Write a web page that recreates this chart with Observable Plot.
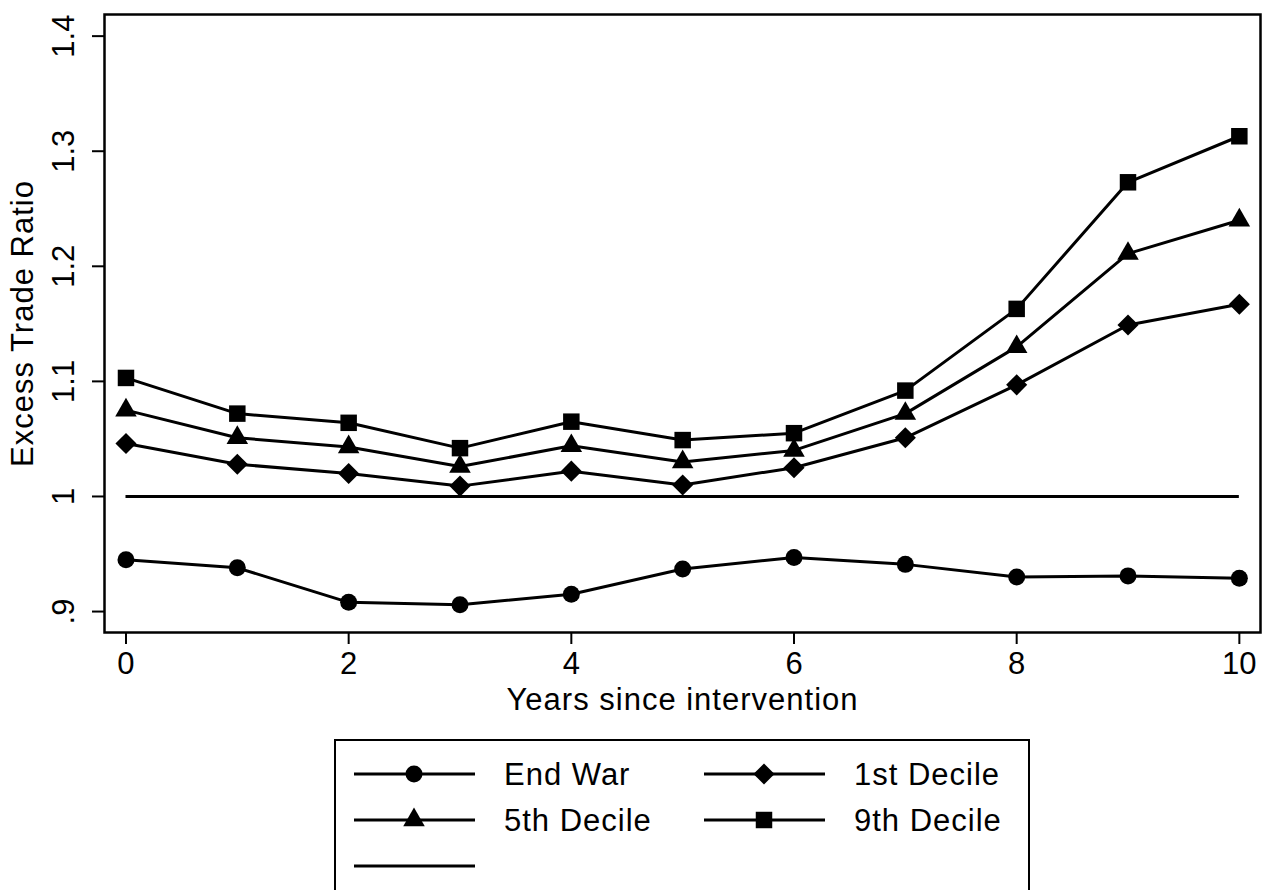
<!DOCTYPE html>
<html>
<head>
<meta charset="utf-8">
<script src="https://cdn.jsdelivr.net/npm/d3@7"></script>
<script src="https://cdn.jsdelivr.net/npm/@observablehq/plot@0.6"></script>
<style>
  html, body { margin: 0; padding: 0; background: #fff; overflow: hidden; }
  #wrap { position: relative; width: 1263px; height: 890px; overflow: hidden; background: #fff; }
  #chart svg { display: block; }
  g[aria-label="text"] text { letter-spacing: 1px; }
  #legend { position: absolute; left: 334px; top: 739px; width: 692px; height: 220px; border: 2px solid #000; background: #fff; }
  #legend text { font-family: "Liberation Sans", Arial, sans-serif; font-size: 31px; letter-spacing: 1px; fill: #000; }
</style>
</head>
<body>
<div id="wrap">
  <div id="chart"></div>
  <div id="legend"></div>
</div>
<script>
// ---- data ----
const years = [0, 1, 2, 3, 4, 5, 6, 7, 8, 9, 10];
const endWar  = [0.945, 0.938, 0.908, 0.906, 0.915, 0.937, 0.947, 0.941, 0.930, 0.931, 0.929];
const decile1 = [1.046, 1.028, 1.020, 1.009, 1.022, 1.010, 1.025, 1.051, 1.097, 1.149, 1.167];
const decile5 = [1.075, 1.051, 1.043, 1.026, 1.044, 1.030, 1.040, 1.072, 1.130, 1.211, 1.240];
const decile9 = [1.103, 1.072, 1.064, 1.042, 1.065, 1.049, 1.055, 1.092, 1.163, 1.273, 1.313];
const seriesNames = ["End War", "1st Decile", "5th Decile", "9th Decile"];
const refValue = 1;
const xTicks = [0, 2, 4, 6, 8, 10];
const xTickLabels = ["0", "2", "4", "6", "8", "10"];
const yTicks = [0.9, 1.0, 1.1, 1.2, 1.3, 1.4];
const yTickLabels = [".9", "1", "1.1", "1.2", "1.3", "1.4"];
const xLabel = "Years since intervention";
const yLabel = "Excess Trade Ratio";

// ---- build table ----
const seriesValues = [endWar, decile1, decile5, decile9];
const rows = [];
seriesNames.forEach((name, s) => {
  years.forEach((yr, i) => rows.push({series: name, year: yr, value: seriesValues[s][i]}));
});

const diamond = d3.symbolDiamond2 || {
  draw(context, size) {
    const r = Math.sqrt(size) * 0.62625;
    context.moveTo(0, -r); context.lineTo(r, 0); context.lineTo(0, r); context.lineTo(-r, 0); context.closePath();
  }
};
const symbolFor = {
  "End War": {symbol: d3.symbolCircle, r: 8.5},
  "1st Decile": {symbol: diamond, r: 9.5},
  "5th Decile": {symbol: d3.symbolTriangle, r: 8},
  "9th Decile": {symbol: d3.symbolSquare, r: 9.3}
};

const font = "'Liberation Sans', Arial, sans-serif";

const chart = Plot.plot({
  width: 1263,
  height: 725,
  marginLeft: 104,
  marginRight: 3,
  marginTop: 14,
  marginBottom: 93,
  style: {fontFamily: font, fontSize: "31px", color: "#000", background: "#fff"},
  x: {type: "linear", domain: [-0.193, 10.19]},
  y: {type: "linear", domain: [0.8818, 1.4188]},
  marks: [
    Plot.axisX({ticks: xTicks, tickSize: 12, tickPadding: 20, strokeWidth: 2,
      tickFormat: (d) => xTickLabels[xTicks.indexOf(d)], lineAnchor: "middle", label: null, fontSize: 31}),
    Plot.axisY({ticks: yTicks, tickSize: 12, tickPadding: 28, strokeWidth: 2, tickRotate: -90,
      textAnchor: "middle", lineAnchor: "middle",
      tickFormat: (d) => yTickLabels[yTicks.findIndex(t => Math.abs(t - d) < 1e-9)], label: null, fontSize: 31}),
    Plot.text([xLabel], {text: d => d, frameAnchor: "bottom", dy: 68, textAnchor: "middle", lineAnchor: "middle", fontSize: 31}),
    Plot.text([yLabel], {text: d => d, frameAnchor: "left", dx: -81, rotate: -90, textAnchor: "middle", lineAnchor: "middle", fontSize: 31}),
    Plot.ruleY([refValue], {x1: years[0], x2: years[years.length - 1], stroke: "#000", strokeWidth: 3}),
    Plot.line(rows, {x: "year", y: "value", z: "series", stroke: "#000", strokeWidth: 3}),
    ...seriesNames.map(name => Plot.dot(rows.filter(d => d.series === name), {
      x: "year", y: "value", symbol: () => symbolFor[name].symbol, r: symbolFor[name].r,
      fill: "#000", stroke: "none"
    })),
    Plot.frame({stroke: "#000", strokeWidth: 2.5})
  ]
});
document.getElementById("chart").appendChild(chart);

// ---- legend ----
const lg = d3.select("#legend").append("svg").attr("width", 692).attr("height", 220);
const legendItems = [
  {name: "End War", col: 0, row: 0},
  {name: "1st Decile", col: 1, row: 0},
  {name: "5th Decile", col: 0, row: 1},
  {name: "9th Decile", col: 1, row: 1},
  {name: null, col: 0, row: 2}
];
const colX = [18, 368];
const rowY = [33, 79, 125];
legendItems.forEach(it => {
  const x0 = colX[it.col], y0 = rowY[it.row];
  lg.append("line").attr("x1", x0).attr("x2", x0 + 121).attr("y1", y0).attr("y2", y0)
    .attr("stroke", "#000").attr("stroke-width", 3);
  if (it.name) {
    const s = symbolFor[it.name];
    lg.append("path").attr("d", d3.symbol(s.symbol, Math.PI * s.r * s.r)())
      .attr("transform", `translate(${x0 + 60},${y0})`).attr("fill", "#000");
    lg.append("text").attr("x", x0 + 150).attr("y", y0).attr("dy", "0.35em").text(it.name);
  }
});
</script>
</body>
</html>
